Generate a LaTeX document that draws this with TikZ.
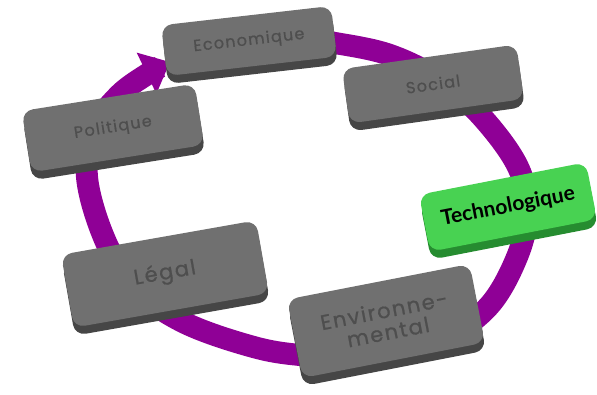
\documentclass[tikz,border=0pt]{standalone}
\usepackage{fontspec}
\setmainfont{Poppins}
\newfontfamily\plaquefont[LetterSpace=8,FakeBold=0.8]{Poppins}
\newfontfamily\techfont{Lato}
\usepackage{tikz}
\usetikzlibrary{shadows,arrows.meta}
\definecolor{plaqueTop}{RGB}{112,112,112}
\definecolor{plaqueSide}{RGB}{70,70,70}
\definecolor{plaqueText}{RGB}{78,78,78}
\definecolor{techTop}{RGB}{72,210,82}
\definecolor{techSide}{RGB}{38,140,48}
\definecolor{ringPurple}{RGB}{143,0,150}

\begin{document}
\begin{tikzpicture}[x=1pt,y=-1pt,
    block_base/.style ={rectangle, draw=none, rounded corners=11pt,
      align=center, inner sep=2pt},
    block_gray/.style ={block_base, fill=plaqueTop, text=plaqueText,
      font=\plaquefont\fontsize{16}{18}\selectfont,
      drop shadow={shadow xshift=1pt, shadow yshift=-8pt, fill=plaqueSide, opacity=1}},
    block_big/.style ={font=\plaquefont\fontsize{21}{22}\selectfont},
    block_tech/.style ={block_base, fill=techTop, text=black,
      font=\techfont\bfseries\fontsize{21}{23}\selectfont,
      drop shadow={shadow xshift=1pt, shadow yshift=-8pt, fill=techSide, opacity=1}},
    ring/.style ={draw=ringPurple, line width=22pt,
      -{Triangle[length=26pt, width=44pt]}}]
    \useasboundingbox (0,0) rectangle (597,395);
    % the purple cycle behind the plaques
    \draw [ring] plot [smooth, tension=0.6] coordinates {
      (240,38) (300,39) (335,43) (390,55) (440,80) (482,117) (518,167)
      (527,212) (517,257) (488,307) (440,340) (370,358) (300,355)
      (250,346) (183,322) (135,288) (105,240) (87,177) (95,128)
      (118,96) (146,75) (170,62)};
    % the six plaques
    \node [block_gray, rotate=6.5, minimum width=171pt, minimum height=51pt]
      (economique) at (249,41) {Economique};
    \node [block_gray, rotate=8, minimum width=176pt, minimum height=55pt]
      (social) at (433,84) {Social};
    \node [block_tech, rotate=11, minimum width=170pt, minimum height=58pt]
      (techno) at (508,207) {Technologique};
    \node [block_gray, block_big, rotate=11, minimum width=186pt, minimum height=80pt]
      (environ) at (386,321) {Environne-\\mental};
    \node [block_gray, block_big, rotate=10, minimum width=198pt, minimum height=74pt]
      (legal) at (165,274) {Légal};
    \node [block_gray, rotate=9, minimum width=175pt, minimum height=62pt]
      (politique) at (113,128) {Politique};
\end{tikzpicture}
\end{document}
